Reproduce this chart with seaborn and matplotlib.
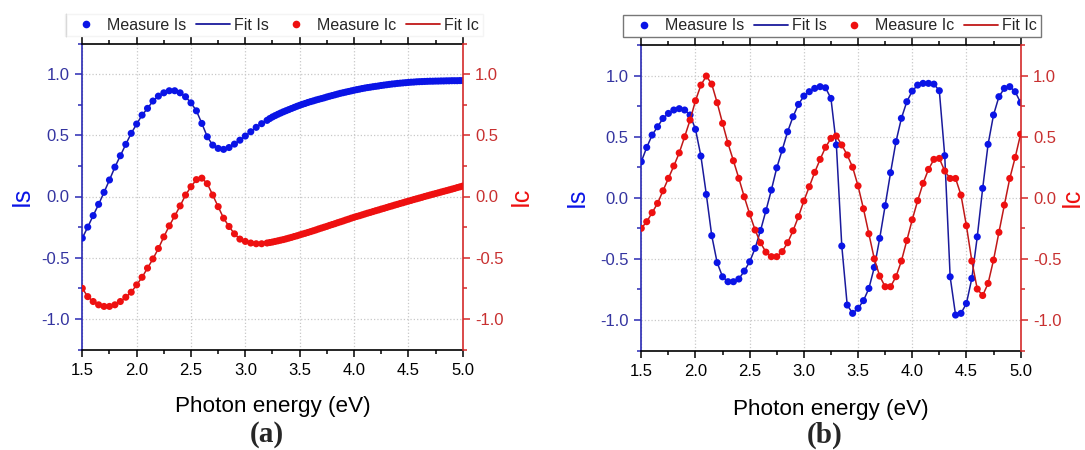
import numpy as np
import pandas as pd
import matplotlib
matplotlib.use("Agg")
import matplotlib.pyplot as plt
from matplotlib.lines import Line2D
from matplotlib.ticker import MultipleLocator
import seaborn as sns

# ---- data ----
# panel (a): 0.05 eV steps up to 3.20 eV, then denser 0.025 eV steps
energy_a_coarse = [1.50, 1.55, 1.60, 1.65, 1.70, 1.75, 1.80, 1.85, 1.90, 1.95,
                   2.00, 2.05, 2.10, 2.15, 2.20, 2.25, 2.30, 2.35, 2.40, 2.45,
                   2.50, 2.55, 2.60, 2.65, 2.70, 2.75, 2.80, 2.85, 2.90, 2.95,
                   3.00, 3.05, 3.10, 3.15, 3.20]
energy_a_fine = [3.225, 3.250, 3.275, 3.300, 3.325, 3.350, 3.375, 3.400, 3.425, 3.450,
                 3.475, 3.500, 3.525, 3.550, 3.575, 3.600, 3.625, 3.650, 3.675, 3.700,
                 3.725, 3.750, 3.775, 3.800, 3.825, 3.850, 3.875, 3.900, 3.925, 3.950,
                 3.975, 4.000, 4.025, 4.050, 4.075, 4.100, 4.125, 4.150, 4.175, 4.200,
                 4.225, 4.250, 4.275, 4.300, 4.325, 4.350, 4.375, 4.400, 4.425, 4.450,
                 4.475, 4.500, 4.525, 4.550, 4.575, 4.600, 4.625, 4.650, 4.675, 4.700,
                 4.725, 4.750, 4.775, 4.800, 4.825, 4.850, 4.875, 4.900, 4.925, 4.950,
                 4.975, 5.000]

is_a_coarse = [-0.340, -0.250, -0.156, -0.064, 0.034, 0.135, 0.240, 0.333, 0.426, 0.516,
               0.592, 0.665, 0.720, 0.780, 0.820, 0.847, 0.864, 0.864, 0.847, 0.815,
               0.765, 0.700, 0.597, 0.488, 0.420, 0.393, 0.385, 0.400, 0.428, 0.460,
               0.494, 0.529, 0.565, 0.595, 0.622]
is_a_fine = [0.637, 0.650, 0.661, 0.672, 0.682, 0.692, 0.701, 0.710, 0.719, 0.728,
             0.737, 0.745, 0.753, 0.760, 0.768, 0.775, 0.781, 0.788, 0.794, 0.800,
             0.806, 0.813, 0.819, 0.825, 0.831, 0.837, 0.843, 0.848, 0.853, 0.858,
             0.863, 0.868, 0.873, 0.877, 0.882, 0.886, 0.890, 0.893, 0.897, 0.900,
             0.903, 0.907, 0.910, 0.913, 0.916, 0.919, 0.921, 0.924, 0.926, 0.928,
             0.930, 0.932, 0.934, 0.935, 0.937, 0.938, 0.939, 0.940, 0.941, 0.942,
             0.942, 0.943, 0.943, 0.944, 0.944, 0.945, 0.945, 0.946, 0.946, 0.946,
             0.947, 0.947]

ic_a_coarse = [-0.750, -0.818, -0.858, -0.885, -0.898, -0.898, -0.885, -0.858, -0.823, -0.782,
               -0.722, -0.660, -0.585, -0.510, -0.425, -0.330, -0.240, -0.160, -0.077, 0.012,
               0.080, 0.138, 0.150, 0.105, 0.012, -0.083, -0.177, -0.245, -0.305, -0.348,
               -0.367, -0.380, -0.386, -0.386, -0.380]
ic_a_fine = [-0.376, -0.372, -0.367, -0.362, -0.357, -0.352, -0.346, -0.340, -0.334, -0.327,
             -0.321, -0.314, -0.307, -0.301, -0.294, -0.287, -0.280, -0.273, -0.265, -0.258,
             -0.251, -0.244, -0.236, -0.229, -0.222, -0.214, -0.207, -0.200, -0.192, -0.185,
             -0.177, -0.170, -0.163, -0.157, -0.150, -0.143, -0.136, -0.130, -0.123, -0.116,
             -0.110, -0.103, -0.097, -0.090, -0.083, -0.077, -0.070, -0.064, -0.057, -0.051,
             -0.044, -0.038, -0.032, -0.025, -0.019, -0.013, -0.007, 0.000, 0.006, 0.012,
             0.018, 0.024, 0.030, 0.036, 0.042, 0.048, 0.054, 0.060, 0.066, 0.073,
             0.079, 0.085]

# panel (b): 0.05 eV steps
energy_b = [1.50, 1.55, 1.60, 1.65, 1.70, 1.75, 1.80, 1.85, 1.90, 1.95,
            2.00, 2.05, 2.10, 2.15, 2.20, 2.25, 2.30, 2.35, 2.40, 2.45,
            2.50, 2.55, 2.60, 2.65, 2.70, 2.75, 2.80, 2.85, 2.90, 2.95,
            3.00, 3.05, 3.10, 3.15, 3.20, 3.25, 3.30, 3.35, 3.40, 3.45,
            3.50, 3.55, 3.60, 3.65, 3.70, 3.75, 3.80, 3.85, 3.90, 3.95,
            4.00, 4.05, 4.10, 4.15, 4.20, 4.25, 4.30, 4.35, 4.40, 4.45,
            4.50, 4.55, 4.60, 4.65, 4.70, 4.75, 4.80, 4.85, 4.90, 4.95,
            5.00]
is_b = [0.295, 0.412, 0.513, 0.581, 0.649, 0.690, 0.718, 0.729, 0.718, 0.677,
        0.560, 0.341, 0.027, -0.310, -0.531, -0.647, -0.687, -0.687, -0.665, -0.600,
        -0.524, -0.414, -0.268, -0.106, 0.063, 0.245, 0.390, 0.540, 0.663, 0.764,
        0.832, 0.868, 0.895, 0.909, 0.900, 0.813, 0.432, -0.395, -0.878, -0.946,
        -0.905, -0.842, -0.742, -0.570, -0.332, -0.065, 0.205, 0.459, 0.650, 0.786,
        0.873, 0.922, 0.936, 0.936, 0.930, 0.876, 0.344, -0.647, -0.960, -0.946,
        -0.865, -0.660, -0.320, 0.077, 0.437, 0.677, 0.827, 0.895, 0.909, 0.868,
        0.778]
ic_b = [-0.250, -0.196, -0.122, -0.046, 0.057, 0.159, 0.260, 0.367, 0.499, 0.636,
        0.794, 0.922, 0.996, 0.930, 0.778, 0.609, 0.445, 0.303, 0.159, 0.008,
        -0.133, -0.264, -0.368, -0.445, -0.482, -0.482, -0.441, -0.368, -0.270, -0.155,
        -0.026, 0.090, 0.208, 0.314, 0.413, 0.486, 0.505, 0.432, 0.350, 0.250,
        0.097, -0.090, -0.295, -0.500, -0.641, -0.728, -0.728, -0.646, -0.518, -0.350,
        -0.180, -0.024, 0.118, 0.232, 0.314, 0.322, 0.219, 0.158, 0.158, 0.022,
        -0.229, -0.518, -0.747, -0.800, -0.701, -0.510, -0.283, -0.060, 0.158, 0.330,
        0.520]

panel_tags = ["(a)", "(b)"]
x_ticks = [1.5, 2.0, 2.5, 3.0, 3.5, 4.0, 4.5, 5.0]
y_ticks = [-1.0, -0.5, 0.0, 0.5, 1.0]

BLUE_DOT = "#0a14e6"
BLUE_LINE = "#1a1a9c"
BLUE_AX = "#2a2ab4"
RED_DOT = "#ee1010"
RED_LINE = "#c01818"
RED_AX = "#d42a2a"

sns.set_style("white")
plt.rcParams["font.family"] = ["Liberation Sans", "DejaVu Sans"]

df_a = pd.DataFrame({
    "E": energy_a_coarse + energy_a_fine,
    "Is": is_a_coarse + is_a_fine,
    "Ic": ic_a_coarse + ic_a_fine,
})
df_b = pd.DataFrame({"E": energy_b, "Is": is_b, "Ic": ic_b})

fig = plt.figure(figsize=(10.85, 4.5), dpi=100)

# axes rects in figure fractions
rects = [
    [82.3 / 1085, 100.5 / 450, 380.4 / 1085, 306.0 / 450],
    [641.3 / 1085, 99.5 / 450, 379.3 / 1085, 305.5 / 450],
]
ylab_x = [(-0.128, 1.122), (-0.139, 1.104)]
leg_center = [(274 / 1085, 1 - 25 / 450), (832 / 1085, 1 - 26 / 450)]
tag_x = [267 / 1085, 825 / 1085]


def style_axes(ax, ax2):
    for a in (ax, ax2):
        a.set_xlim(1.5, 5.0)
        a.set_ylim(-1.25, 1.25)
        a.set_xlabel("")
        a.set_ylabel("")

    ax.xaxis.set_minor_locator(MultipleLocator(0.25))
    ax.set_xticks(x_ticks)
    ax.set_xticklabels([f"{v:.1f}" for v in x_ticks])
    for a in (ax, ax2):
        a.yaxis.set_minor_locator(MultipleLocator(0.25))
        a.set_yticks(y_ticks)
        a.set_yticklabels([f"{v:.1f}" for v in y_ticks])

    ax.grid(True, which="major", color="#c8c8c8", linestyle=":", linewidth=0.9)

    ax.tick_params(axis="x", which="both", direction="out", top=True, bottom=True,
                   colors="black", labelsize=12, width=1.1, pad=5)
    ax.tick_params(axis="x", which="major", length=5)
    ax.tick_params(axis="x", which="minor", length=3)
    ax.tick_params(axis="y", which="both", direction="out", left=True, right=False,
                   colors=BLUE_AX, labelsize=12, width=1.1, pad=4)
    ax.tick_params(axis="y", which="major", length=5)
    ax.tick_params(axis="y", which="minor", length=3)
    ax.tick_params(axis="y", labelcolor="#3434a0")

    ax2.tick_params(axis="y", which="both", direction="out", right=True, left=False,
                    colors=RED_AX, labelsize=12, width=1.1, pad=4)
    ax2.tick_params(axis="y", which="major", length=5)
    ax2.tick_params(axis="y", which="minor", length=3)
    ax2.tick_params(axis="y", labelcolor="#c83030")
    ax2.tick_params(axis="x", which="both", top=False, bottom=False,
                    labeltop=False, labelbottom=False)

    ax.spines["left"].set_color(BLUE_AX)
    ax.spines["right"].set_visible(False)
    ax.spines["top"].set_color("black")
    ax.spines["bottom"].set_color("black")
    ax2.spines["right"].set_color(RED_AX)
    ax2.spines["left"].set_visible(False)
    ax2.spines["top"].set_visible(False)
    ax2.spines["bottom"].set_visible(False)
    for a in (ax, ax2):
        for sp in a.spines.values():
            sp.set_linewidth(1.2)


for i, df in enumerate([df_a, df_b]):
    ax = fig.add_axes(rects[i])
    ax2 = ax.twinx()

    sns.lineplot(data=df, x="E", y="Is", ax=ax, color=BLUE_LINE, linewidth=1.1,
                 estimator=None, sort=False, zorder=2)
    sns.scatterplot(data=df, x="E", y="Is", ax=ax, color=BLUE_DOT, s=26,
                    edgecolor="none", zorder=3)
    sns.lineplot(data=df, x="E", y="Ic", ax=ax2, color=RED_LINE, linewidth=1.1,
                 estimator=None, sort=False, zorder=2)
    sns.scatterplot(data=df, x="E", y="Ic", ax=ax2, color=RED_DOT, s=26,
                    edgecolor="none", zorder=3)

    style_axes(ax, ax2)

    ax.set_xlabel("Photon energy (eV)", fontsize=16.2, color="black")
    ax.xaxis.set_label_coords(0.5, -0.152 if i == 0 else -0.158)
    ax.set_ylabel("Is", fontsize=18, color=BLUE_DOT)
    ax.yaxis.set_label_coords(ylab_x[i][0], 0.5)
    ax2.set_ylabel("Ic", fontsize=18, color=RED_DOT)
    ax2.yaxis.set_label_coords(ylab_x[i][1], 0.5)

    handles = [
        Line2D([], [], linestyle="none", marker="o", markersize=5.5,
               markerfacecolor=BLUE_DOT, markeredgecolor="none"),
        Line2D([], [], color=BLUE_LINE, linewidth=1.3),
        Line2D([], [], linestyle="none", marker="o", markersize=5.5,
               markerfacecolor=RED_DOT, markeredgecolor="none"),
        Line2D([], [], color=RED_LINE, linewidth=1.3),
    ]
    labels = ["Measure Is", "Fit Is", "Measure Ic", "Fit Ic"]
    leg = fig.legend(handles, labels, ncol=4, loc="center",
                     bbox_to_anchor=leg_center[i], fontsize=11.5, frameon=True,
                     fancybox=False, handlelength=2.1, handletextpad=0.3,
                     columnspacing=0.6, borderpad=0.25, borderaxespad=0)
    frame = leg.get_frame()
    frame.set_linewidth(1.0)
    if i == 0:
        frame.set_edgecolor("#f2f2f2")
    else:
        frame.set_edgecolor("#555555")

    fig.text(tag_x[i], 1 - 435 / 450, panel_tags[i], ha="center", va="center",
             fontsize=21, fontweight="bold", family=["Liberation Serif", "DejaVu Serif"])

# dark left edge of the (a) legend box
fig.add_artist(Line2D([66 / 1085, 66 / 1085], [1 - 14 / 450, 1 - 36 / 450],
                      color="#333333", linewidth=1.0, transform=fig.transFigure))

fig.savefig("out.png", dpi=100)
